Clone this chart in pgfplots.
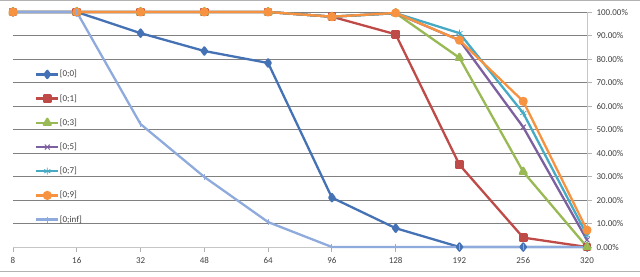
\documentclass[border=0pt]{standalone}
\usepackage{fontspec}
\setmainfont{Carlito}
\usepackage{pgfplots}
\usepackage{pgfplotstable}
\pgfplotsset{compat=1.18}
\definecolor{sA}{HTML}{4472B4}
\definecolor{sB}{HTML}{BE4B48}
\definecolor{sC}{HTML}{98B954}
\definecolor{sD}{HTML}{7D60A0}
\definecolor{sE}{HTML}{46AAC5}
\definecolor{sF}{HTML}{F69240}
\definecolor{sG}{HTML}{8FAADC}
\definecolor{txt}{HTML}{404040}
\pgfplotstableread{
x  a    b    c    d    e    f    g
0  100  100  100  100  100  100  100
1  100  100  100  100  100  100  100
2  91   100  100  100  100  100  52.3
3  83.4 100  100  100  100  100  29.8
4  78.3 100  100  100  100  100  10.6
5  21   98   98   98   98   98   0
6  8    90.5 99.5 99.5 99.5 99.6 0
7  0    35   80.5 88   91   88   0
8  0    4    32   51   57   62   0
9  0    0    0    3    5    7.2  0
}\data
\begin{document}
\begin{tikzpicture}[x=1bp,y=1bp]
\path[use as bounding box] (0,0) rectangle (640,276);
\draw[gray!60, line width=0.8bp] (0,275.6) -- (640,275.6);
\draw[gray!60, line width=0.8bp] (0,4.5) -- (640,4.5);
\begin{axis}[
  at={(13bp,29bp)}, anchor=south west,
  scale only axis, width=574bp, height=235bp,
  xmin=0, xmax=9, ymin=0, ymax=100,
  clip=false,
  axis x line=bottom, axis y line=right,
  axis line style={-, gray!45, line width=0.8bp},
  xtick={0,...,9},
  xticklabels={8,16,32,48,64,96,128,192,256,320},
  ytick={0,10,...,100},
  yticklabel={\pgfmathprintnumber[fixed,fixed zerofill,precision=2]{\tick}\%},
  /pgf/number format/assume math mode=true,
  tick align=outside,
  major tick length=5bp,
  tick style={gray!60, line width=0.8bp},
  ymajorgrids, grid style={black!50, line width=0.8bp},
  tick label style={font=\fontsize{9}{10}\selectfont, text=txt},
  xticklabel style={yshift=-2bp},
  yticklabel style={xshift=1bp},
  every axis plot/.append style={line width=2.3bp, line join=round},
  mark options={solid},
  legend style={at={(0.033,0.765)}, anchor=north west, draw=none, fill=none,
    font=\fontsize{9}{10}\selectfont, text=txt, row sep=14.2bp,
    nodes={inner sep=0.5bp, text height=7bp, text depth=2bp}},
  legend cell align=left,
  legend image code/.code={\draw[#1, mark repeat=2, mark phase=2] plot coordinates {(0bp,0bp) (11bp,0bp) (22bp,0bp)};},
]
\addplot[sA, mark=diamond*, mark size=3.6bp, mark options={fill=sA}] table[x=x,y=a]{\data};
\addlegendentry{[0;0]}
\addplot[sB, mark=square*, mark size=3.2bp, mark options={fill=sB}] table[x=x,y=b]{\data};
\addlegendentry{[0;1]}
\addplot[sC, mark=triangle*, mark size=4bp, mark options={fill=sC}] table[x=x,y=c]{\data};
\addlegendentry{[0;3]}
\addplot[sD, mark=x, mark size=3.5bp, mark options={line width=1bp}] table[x=x,y=d]{\data};
\addlegendentry{[0;5]}
\addplot[sE, mark=asterisk, mark size=3.5bp, mark options={line width=0.8bp}] table[x=x,y=e]{\data};
\addlegendentry{[0;7]}
\addplot[sF, mark=*, mark size=3.4bp, mark options={fill=sF}] table[x=x,y=f]{\data};
\addlegendentry{[0;9]}
\addplot[sG, mark=|, mark size=3bp, mark options={line width=0.8bp}] table[x=x,y=g]{\data};
\addlegendentry{[0;inf]}
\end{axis}
\end{tikzpicture}
\end{document}
